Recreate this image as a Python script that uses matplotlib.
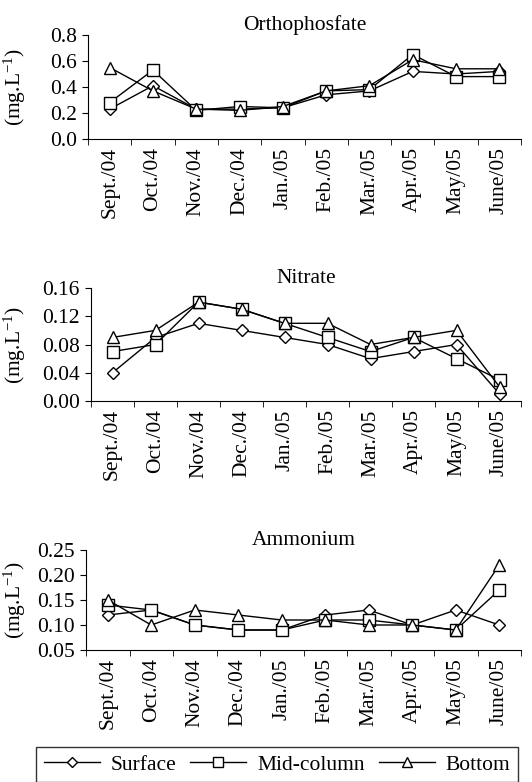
import numpy as np
import matplotlib.pyplot as plt
from matplotlib.ticker import FixedLocator, FormatStrFormatter

plt.rcParams['font.family'] = ['Liberation Serif', 'DejaVu Serif']
plt.rcParams['mathtext.fontset'] = 'custom'
plt.rcParams['mathtext.rm'] = 'Liberation Serif'
plt.rcParams['mathtext.it'] = 'Liberation Serif:italic'

# data
months = ['Sept./04', 'Oct./04', 'Nov./04', 'Dec./04', 'Jan./05',
          'Feb./05', 'Mar./05', 'Apr./05', 'May/05', 'June/05']

phos_surface = [0.23, 0.41, 0.23, 0.23, 0.24, 0.34, 0.37, 0.52, 0.50, 0.52]
phos_mid = [0.28, 0.53, 0.22, 0.25, 0.24, 0.37, 0.38, 0.65, 0.48, 0.48]
phos_bottom = [0.55, 0.37, 0.23, 0.22, 0.25, 0.37, 0.41, 0.61, 0.54, 0.54]

nitr_surface = [0.04, 0.09, 0.11, 0.10, 0.09, 0.08, 0.06, 0.07, 0.08, 0.01]
nitr_mid = [0.07, 0.08, 0.14, 0.13, 0.11, 0.09, 0.07, 0.09, 0.06, 0.03]
nitr_bottom = [0.09, 0.10, 0.14, 0.13, 0.11, 0.11, 0.08, 0.09, 0.10, 0.02]

amm_surface = [0.12, 0.13, 0.10, 0.09, 0.09, 0.12, 0.13, 0.10, 0.13, 0.10]
amm_mid = [0.14, 0.13, 0.10, 0.09, 0.09, 0.11, 0.11, 0.10, 0.09, 0.17]
amm_bottom = [0.15, 0.10, 0.13, 0.12, 0.11, 0.11, 0.10, 0.10, 0.09, 0.22]

fig = plt.figure(figsize=(5.32, 7.82), dpi=100)

W, H = 532, 782
def box(left, right, top, bottom):
    return [left / W, 1 - bottom / H, (right - left) / W, (bottom - top) / H]

panels = [
    ('Orthophosfate', box(88, 521, 35, 139), (phos_surface, phos_mid, phos_bottom),
     np.arange(0, 0.81, 0.2), (0, 0.8), '%.1f'),
    ('Nitrate', box(91, 521, 288, 401), (nitr_surface, nitr_mid, nitr_bottom),
     np.arange(0, 0.161, 0.04), (0, 0.16), '%.2f'),
    ('Ammonium', box(86, 521, 550, 650), (amm_surface, amm_mid, amm_bottom),
     np.arange(0.05, 0.251, 0.05), (0.05, 0.25), '%.2f'),
]

x = np.arange(len(months))
markers = ['D', 's', '^']
sizes = [6, 8, 8]
names = ['Surface', 'Mid-column', 'Bottom']
fs = 15.5

for title, rect, series, yt, ylim, fmt in panels:
    ax = fig.add_axes(rect)
    for vals, m, ms, nm in zip(series, markers, sizes, names):
        ax.plot(x, vals, color='black', lw=1, marker=m, markersize=ms,
                markerfacecolor='white', markeredgecolor='black',
                markeredgewidth=1, label=nm)
    ax.set_xlim(-0.5, len(months) - 0.5)
    ax.set_ylim(*ylim)
    ax.set_yticks(yt)
    ax.yaxis.set_major_formatter(FormatStrFormatter(fmt))
    ax.set_xticks(x)
    ax.set_xticklabels(months, rotation=90)
    ax.xaxis.set_minor_locator(FixedLocator(np.arange(-0.5, len(months), 1)))
    ax.tick_params(axis='x', which='major', length=0, pad=6, labelsize=fs)
    ax.tick_params(axis='x', which='minor', length=4, direction='out')
    ax.tick_params(axis='y', length=4, direction='out', pad=4, labelsize=fs)
    ax.spines['top'].set_visible(False)
    ax.spines['right'].set_visible(False)
    ax.set_title(title, fontsize=fs, pad=3)
    ax.set_ylabel('(mg.L$^{-1}$)', fontsize=fs)
    ax.yaxis.set_label_coords((28 - rect[0] * W) / (rect[2] * W), 0.5)

handles, labels = ax.get_legend_handles_labels()
leg = fig.legend(handles, labels, loc='upper left', ncol=3,
                 bbox_to_anchor=(36 / W, 1 - 747 / H, 482 / W, 0),
                 mode='expand', fontsize=fs, frameon=True, fancybox=False,
                 edgecolor='black', handlelength=2.6, borderpad=0.35,
                 handletextpad=0.5, columnspacing=1.0, markerscale=0.9,
                 borderaxespad=0)
leg.get_frame().set_linewidth(1)

fig.savefig('out.png', dpi=100)
